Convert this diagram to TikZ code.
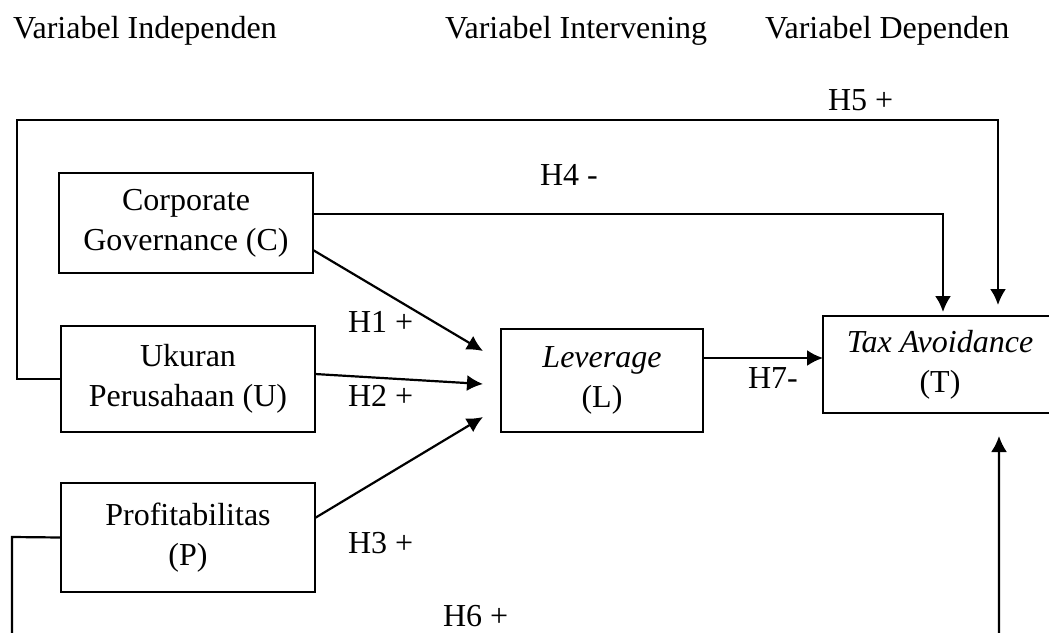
\documentclass[tikz,border=0pt]{standalone}
\usepackage{fontspec}
\setmainfont{Liberation Serif}
\usetikzlibrary{arrows.meta}
\begin{document}
\begin{tikzpicture}[x=0.5pt,y=-0.5pt,
  every node/.style={font=\fontsize{16pt}{20pt}\selectfont},
  box/.style={draw,line width=0.7pt,inner sep=0pt,outer sep=0pt,align=center},
  conn/.style={line width=1.1pt},
  arr/.style={conn,-{Latex[length=8pt,width=8pt]}},
  lbl/.style={anchor=base west,inner sep=0pt,outer sep=0pt}]
\useasboundingbox (0,0) rectangle (1049,632);
\clip (0,0) rectangle (1049,632);

% headers
\node[lbl] (hind) at (13,38) {Variabel Independen};
\node[lbl] (hint) at (445,38) {Variabel Intervening};
\node[lbl] (hdep) at (765,38) {Variabel Dependen};

% boxes
\node[box,minimum width=127pt,minimum height=50pt] (C) at (186,223) {Corporate\\Governance (C)};
\node[box,minimum width=127pt,minimum height=53pt] (U) at (188,379) {Ukuran\\Perusahaan (U)};
\node[box,minimum width=127pt,minimum height=54.5pt] (P) at (188,537.5) {Profitabilitas\\(P)};
\node[box,minimum width=101pt,minimum height=51.5pt] (L) at (602,380.5) {\textit{Leverage}\\(L)};
\node[box,minimum width=117pt,minimum height=48.5pt] (T) at (940,364.5) {\textit{Tax Avoidance}\\(T)};

% helper coordinates
\coordinate (h5top) at (998,120);
\coordinate (h5left) at (17,120);
\coordinate (h4corner) at (943,214);
\coordinate (l1) at (483,351);
\coordinate (l2) at (483,384);
\coordinate (l3) at (483,417);
\coordinate (h6left) at (12,537);
\coordinate (h6bl) at (12,660);
\coordinate (h6br) at (999,660);
\coordinate (h6tip) at (999,436);

% H5
\draw[arr] (U.west) -- (U.west -| h5left) -- (h5left) -- (h5top) -- ([yshift=5.5pt]h5top |- T.north);
% H4
\draw[arr] ([yshift=4.5pt]C.east) -- (h4corner) -- ([yshift=2pt]h4corner |- T.north);
% H1-H3
\draw[arr] ([yshift=-13.5pt]C.east) -- (l1);
\draw[arr] ([yshift=2.5pt]U.east) -- (l2);
\draw[arr] ([yshift=9.75pt]P.east) -- (l3);
% H7
\draw[arr] ([yshift=11.25pt]L.east) -- ([yshift=11.25pt]L.east -| T.west);
% H6
\draw[arr] (P.west) -- (h6left) -- (h6bl) -- (h6br) -- (h6tip);

% labels
\node[lbl] (lh1) at (348,332) {H1 +};
\node[lbl] (lh2) at (348,406) {H2 +};
\node[lbl] (lh3) at (348,553) {H3 +};
\node[lbl] (lh4) at (540,185) {H4 -};
\node[lbl] (lh5) at (828,110) {H5 +};
\node[lbl] (lh6) at (443,626) {H6 +};
\node[lbl] (lh7) at (748,388) {H7-};
\end{tikzpicture}
\end{document}
